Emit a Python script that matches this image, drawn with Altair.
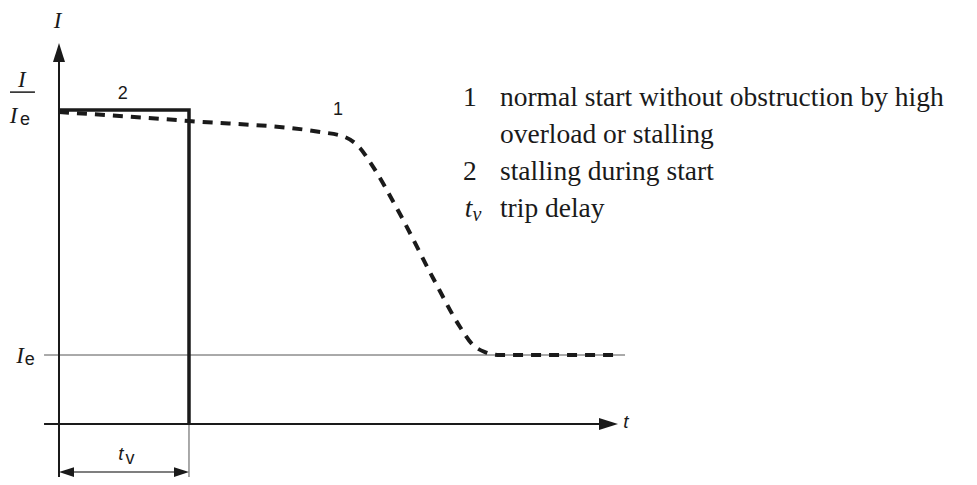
import altair as alt
import pandas as pd

# ---- data (t in units of trip delay t_v, I in units of rated current I_e) ----
normal_t = [0.0, 1.0, 2.008, 2.2, 2.315, 2.392, 2.623, 2.877, 3.085, 3.177, 3.277, 3.392, 4.277]
normal_i = [4.522, 4.391, 4.232, 4.159, 4.0, 3.797, 3.043, 2.116, 1.406, 1.159, 1.043, 1.0, 1.0]
stall_t = [0.0, 1.0, 1.0]
stall_i = [4.55, 4.55, 0.0]
ie_level = 1.0
tv = 1.0

legend_keys = ["1", "", "2"]
legend_texts = ["normal start without obstruction by high", "overload or stalling",
                "stalling during start", "trip delay"]

X_DOM = [-0.3923, 7.0]
Y_DOM = [-0.768, 6.029]
INK = "#1a1a1a"
THIN = "#555555"

xs = alt.Scale(domain=X_DOM, nice=False, zero=False)
ys = alt.Scale(domain=Y_DOM, nice=False, zero=False)


def X(f="t"):
    return alt.X(f"{f}:Q", scale=xs, axis=None)


def Y(f="i"):
    return alt.Y(f"{f}:Q", scale=ys, axis=None)


def seg(t1, i1, t2, i2, color, width):
    d = pd.DataFrame({"t": [t1], "i": [i1], "t2": [t2], "i2": [i2]})
    return alt.Chart(d).mark_rule(color=color, strokeWidth=width).encode(
        x=X(), y=Y(), x2="t2:Q", y2="i2:Q")


def txt(items, **kw):
    d = pd.DataFrame(items, columns=["t", "i", "s"])
    return alt.Chart(d).mark_text(**kw).encode(x=X(), y=Y(), text="s:N")


def head(t, i, path, size):
    d = pd.DataFrame({"t": [t], "i": [i]})
    return alt.Chart(d).mark_point(shape=path, filled=True, size=size, color=INK,
                                   opacity=1, strokeWidth=0).encode(x=X(), y=Y())


# axes
v_axis = seg(0, -0.84, 0, 5.35, INK, 2)
h_axis = seg(-0.115, 0, 4.2, 0, INK, 2)
v_head = head(0, 5.522, "M0,0L0.63,2L-0.63,2Z", 361)
h_head = head(4.3, 0, "M0,0L-2,-0.63L-2,0.63Z", 361)

ie_line = seg(-0.115, ie_level, 4.354, ie_level, THIN, 1)
tv_ext = seg(tv, 0, tv, -0.84, THIN, 1)
dim_line = seg(0.08, -0.696, tv - 0.08, -0.696, THIN, 1.5)
dim_l = head(0, -0.696, "M0,0L2,-0.65L2,0.65Z", 225)
dim_r = head(tv, -0.696, "M0,0L-2,-0.65L-2,0.65Z", 225)

frac_bar = seg(-0.377, 4.81, -0.185, 4.81, INK, 1.5)

# curves
nd = pd.DataFrame({"t": normal_t, "i": normal_i, "k": range(len(normal_t))})
normal = alt.Chart(nd).mark_line(color=INK, strokeWidth=4, strokeDash=[10, 8],
                                 interpolate="monotone").encode(
    x=X(), y=Y(), order="k:Q")
sd = pd.DataFrame({"t": stall_t, "i": stall_i, "k": range(len(stall_t))})
stall = alt.Chart(sd).mark_line(color=INK, strokeWidth=3.5, strokeJoin="miter").encode(
    x=X(), y=Y(), order="k:Q")

# labels
serif_it = dict(font="Liberation Serif", fontStyle="italic", fontSize=23, color=INK,
                align="center", baseline="middle")
sans = dict(font="Liberation Sans", fontSize=18, color=INK, align="center", baseline="middle")
sans_it = dict(font="Liberation Sans", fontStyle="italic", fontSize=19, color=INK,
               align="center", baseline="middle")

lab_I = txt([(-0.01, 5.84, "I"), (-0.285, 4.99, "I"), (-0.35, 4.46, "I"),
             (-0.30, 0.985, "I")], **serif_it)
lab_e = txt([(-0.262, 4.41, "e"), (-0.225, 0.93, "e")], **sans)
lab_num = txt([(0.49, 4.78, "2"), (2.146, 4.55, "1")], **sans)
lab_t = txt([(4.36, 0.03, "t"), (0.477, -0.435, "t")], **sans_it)
lab_v = txt([(0.546, -0.507, "v")], **sans)

leg_y = [4.609, 4.072, 3.536, 3.0]
LEG = 27.5
leg_key = txt([(3.16, leg_y[k], legend_keys[k]) for k in range(3) if legend_keys[k]],
              font="Liberation Serif", fontSize=LEG, color=INK, align="center",
              baseline="alphabetic")
leg_txt = txt([(3.392, leg_y[k], legend_texts[k]) for k in range(4)],
              font="Liberation Serif", fontSize=LEG, color=INK, align="left",
              baseline="alphabetic")
leg_t = txt([(3.15, leg_y[3], "t")], font="Liberation Serif", fontStyle="italic",
            fontSize=LEG, color=INK, align="center", baseline="alphabetic")
leg_v = txt([(3.215, leg_y[3] - 0.06, "v")], font="Liberation Serif", fontStyle="italic",
            fontSize=20, color=INK, align="center", baseline="alphabetic")

chart = alt.layer(
    ie_line, tv_ext, dim_line, dim_l, dim_r, v_axis, h_axis, v_head, h_head, frac_bar,
    normal, stall, lab_I, lab_e, lab_num, lab_t, lab_v, leg_key, leg_txt, leg_t, leg_v
).properties(
    width=961, height=469, padding=0,
    autosize=alt.AutoSizeParams(type="none"),
    background="white",
).configure_view(stroke=None)

chart.save("out.html", embed_options={"renderer": "svg", "actions": False})
